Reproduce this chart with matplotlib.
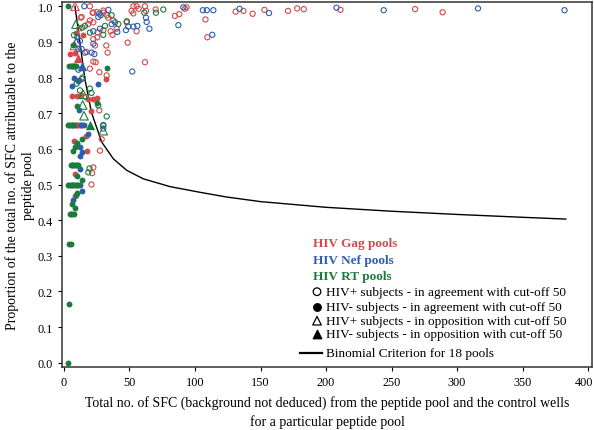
import matplotlib
matplotlib.use("Agg")
import matplotlib.pyplot as plt
from matplotlib.transforms import ScaledTranslation

# cores dos grupos de pools
gag_color = "#d24a4a"
nef_color = "#2b5fae"
rt_color = "#1c7a3c"

# Gag (vermelho)
gag_open_x = [19.8, 25, 21.9, 30, 32.6, 13.5, 19.8, 22.4, 18.5, 11.7, 25.7, 30, 37.7, 35.6, 40.2, 37, 25.4,
              22.4, 47.8, 52.9, 51.6, 55.4, 57, 61.8, 62.6, 55.4, 48.6, 70, 84.7, 88, 92.3, 93.6, 61.8,
              108, 109.4, 131, 137, 144, 153, 171, 178, 183, 211, 268, 289, 12.7, 22.4, 30, 33.8, 53,
              17.3, 23.7, 32.3, 33.3, 22.4, 24.2, 19.8, 27, 32.6, 16.8, 27, 28.8, 27.5, 22.4, 21.5, 21]
gag_open_y = [1.0, 0.984, 0.982, 0.982, 0.975, 0.97, 0.96, 0.955, 0.95, 0.938, 0.927, 0.933, 0.96, 0.93, 0.937,
              0.92, 0.913, 0.908, 0.955, 0.98, 0.987, 1.0, 0.993, 1.0, 0.987, 0.93, 0.898, 0.991, 0.973, 0.978,
              0.993, 0.997, 0.843, 0.963, 0.913, 0.985, 0.987, 0.979, 0.99, 0.987, 0.994, 0.992, 0.99, 0.992,
              0.983, 0.968, 0.982, 0.988, 0.968, 1.0, 0.872, 0.89, 0.89, 0.87, 0.845, 0.843, 0.825, 0.815,
              0.806, 0.745, 0.708, 0.627, 0.595, 0.548, 0.532, 0.5]
gag_opentri_x = [8.4, 8.0]
gag_opentri_y = [1.0, 0.89]
gag_fill_x = [4.6, 8.6, 9.2, 14.7, 11.5, 31.8, 5.9, 9.7, 18.6, 25, 22, 20.4, 9, 10, 11, 12, 16.8, 7.6,
              17.8, 8.4, 8.4, 13]
gag_fill_y = [0.866, 0.87, 0.926, 0.92, 0.793, 0.797, 0.749, 0.749, 0.739, 0.742, 0.74, 0.705, 0.667, 0.667,
              0.667, 0.667, 0.636, 0.623, 0.595, 0.53, 0.468, 0.75]
gag_filltri_x = [10.5]
gag_filltri_y = [0.855]

# Nef (azul)
nef_open_x = [15.5, 33.9, 26.2, 28, 22.4, 27.5, 36.4, 39, 40.7, 47.3, 62.6, 63.1, 49.1, 53, 56, 65.2, 91.1,
              87.3, 52.1, 106, 109, 114, 113.2, 134, 156.5, 208, 244, 316, 382, 10.2, 12.2, 11, 13.5, 16,
              21.1, 23.2, 22.4, 11, 13.5, 30, 30, 27]
nef_open_y = [1.0, 0.99, 0.97, 0.975, 0.93, 0.937, 0.95, 0.955, 0.928, 0.933, 0.968, 0.956, 0.943, 0.943,
              0.945, 0.937, 0.997, 0.947, 0.817, 0.989, 0.989, 0.989, 0.92, 0.993, 0.981, 0.996, 0.989,
              0.994, 0.989, 0.913, 0.903, 0.88, 0.88, 0.87, 0.87, 0.866, 0.895, 0.822, 0.796, 0.667,
              0.657, 0.98]
nef_opentri_x = [9.5]
nef_opentri_y = [0.9]
nef_fill_x = [7.6, 6.1, 10.7, 26.2, 11.5, 13, 14, 15, 18, 12.2, 13.5, 12.2, 12.2, 13.5, 7.1, 12.2]
nef_fill_y = [0.8, 0.777, 0.79, 0.783, 0.709, 0.667, 0.667, 0.667, 0.643, 0.605, 0.59, 0.581, 0.543, 0.483,
              0.457, 0.5]
nef_filltri_x = [13.5]
nef_filltri_y = [0.833]

# RT (verde)
rt_open_x = [36.4, 16, 14, 31.3, 41.5, 30, 19.8, 61.3, 70.2, 75.8, 7.6, 14.3, 9.7, 12.2, 19.8, 21, 26.2,
             32.6, 30, 18.6, 19.5, 48]
rt_open_y = [0.975, 0.945, 0.94, 0.945, 0.95, 0.92, 0.926, 0.982, 0.982, 0.991, 0.919, 0.8, 0.783, 0.764,
             0.769, 0.757, 0.722, 0.691, 0.665, 0.534, 0.545, 0.958]
rt_opentri_x = [9.2, 14.7, 14.3, 15.3, 30]
rt_opentri_y = [0.95, 0.753, 0.723, 0.693, 0.651]
rt_fill_x = [3, 6.6, 4, 5, 6, 7, 8, 9, 32.6, 10, 25, 3, 4, 5, 6, 7, 8, 13.7, 10, 8.4, 6.6, 5, 6, 7, 8, 9,
             10, 11, 10, 3, 4, 5, 6, 7, 8, 9, 10, 11, 14, 10, 9, 6.4, 8.2, 4.6, 5.5, 6.5, 8, 4.2, 5, 4, 3.3]
rt_fill_y = [1.0, 0.89, 0.833, 0.833, 0.833, 0.833, 0.833, 0.833, 0.828, 0.72, 0.73, 0.667, 0.667, 0.667,
             0.667, 0.667, 0.667, 0.628, 0.617, 0.605, 0.594, 0.556, 0.556, 0.556, 0.556, 0.556, 0.556,
             0.556, 0.525, 0.5, 0.5, 0.5, 0.5, 0.5, 0.5, 0.5, 0.5, 0.5, 0.513, 0.475, 0.47, 0.444, 0.433,
             0.417, 0.417, 0.417, 0.417, 0.333, 0.333, 0.165, 0.0]
rt_filltri_x = [20]
rt_filltri_y = [0.667]

# curva do criterio binomial
curve_x = [8.4, 12.2, 16, 21, 28.8, 37.7, 47.8, 60.5, 81, 104, 124, 150, 200, 250, 300, 350, 383]
curve_y = [1.0, 0.898, 0.795, 0.702, 0.619, 0.572, 0.54, 0.516, 0.494, 0.478, 0.465, 0.452, 0.436,
           0.425, 0.416, 0.408, 0.403]

legend_labels = ["HIV+ subjects - in agreement with cut-off 50",
                 "HIV- subjects - in agreement with cut-off 50",
                 "HIV+ subjects - in opposition with cut-off 50",
                 "HIV- subjects - in opposition with cut-off 50"]

plt.rcParams["font.family"] = ["Liberation Serif", "DejaVu Serif"]

fig = plt.figure(figsize=(5.94, 4.31), dpi=100)
ax = fig.add_axes([62 / 594, 1 - 368 / 431, 530 / 594, 365 / 431])


def pontos(x, y, color, marker, filled, s):
    if filled:
        ax.scatter(x, y, s=s, marker=marker, color=color, linewidths=0, zorder=3)
    else:
        ax.scatter(x, y, s=s, marker=marker, facecolors="none", edgecolors=color, linewidths=0.8, zorder=3)


for cor, grupos in [(gag_color, (gag_open_x, gag_open_y, gag_opentri_x, gag_opentri_y,
                                 gag_fill_x, gag_fill_y, gag_filltri_x, gag_filltri_y)),
                    (nef_color, (nef_open_x, nef_open_y, nef_opentri_x, nef_opentri_y,
                                 nef_fill_x, nef_fill_y, nef_filltri_x, nef_filltri_y)),
                    (rt_color, (rt_open_x, rt_open_y, rt_opentri_x, rt_opentri_y,
                                rt_fill_x, rt_fill_y, rt_filltri_x, rt_filltri_y))]:
    ox, oy, otx, oty, fx, fy, ftx, fty = grupos
    pontos(ox, oy, cor, "o", False, 14)
    pontos(otx, oty, cor, "^", False, 38)
    pontos(fx, fy, cor, "o", True, 18)
    pontos(ftx, fty, cor, "^", True, 45)

ax.plot(curve_x, curve_y, color="black", linewidth=1.0, zorder=2)

ax.set_xlim(-1.5, 403)
ax.set_ylim(-0.012, 1.012)
ax.set_xticks([0, 50, 100, 150, 200, 250, 300, 350, 400])
ax.set_yticks([0.0, 0.1, 0.2, 0.3, 0.4, 0.5, 0.6, 0.7, 0.8, 0.9, 1.0])
ax.set_yticklabels(["%.1f" % v for v in ax.get_yticks()])
ax.tick_params(labelsize=8.8, length=3, width=0.8, direction="out")
for sp in ax.spines.values():
    sp.set_linewidth(1.1)
    sp.set_color("#333333")

# o ultimo rotulo do eixo x encosta na borda: puxa um pouco para a esquerda
ultimo = ax.get_xticklabels()[-1]
ultimo.set_transform(ultimo.get_transform() + ScaledTranslation(-4 / 100, 0, fig.dpi_scale_trans))

ax.set_xlabel("Total no. of SFC (background not deduced) from the peptide pool and the control wells\n"
              "for a particular peptide pool", fontsize=10, linespacing=1.45, labelpad=5)
ax.set_ylabel("Proportion of the total no. of SFC attributable to the\npeptide pool",
              fontsize=10, linespacing=1.3, labelpad=2)

# legenda feita a mao
def fx(px):
    return (px - 62) / 530


def fy(py):
    return (368 - py) / 365


for txt, cor, py in [("HIV Gag pools", gag_color, 244), ("HIV Nef pools", nef_color, 260.7),
                     ("HIV RT pools", rt_color, 277.3)]:
    ax.text(fx(313), fy(py), txt, color=cor, fontsize=9.5, fontweight="bold",
            transform=ax.transAxes, va="center", ha="left")

marcas = [("o", False), ("o", True), ("^", False), ("^", True)]
for (mk, cheio), txt, py in zip(marcas, legend_labels, [292.7, 308.3, 321.7, 335]):
    ax.scatter([fx(317)], [fy(py)], s=30 if mk == "o" else 38, marker=mk,
               facecolors="black" if cheio else "none", edgecolors="black", linewidths=0.9,
               transform=ax.transAxes, clip_on=False)
    ax.text(fx(326), fy(py), txt, fontsize=9.5, transform=ax.transAxes, va="center", ha="left")

ax.plot([fx(300), fx(322)], [fy(354.3), fy(354.3)], color="black", linewidth=1.6, transform=ax.transAxes)
ax.text(fx(326), fy(354.3), "Binomial Criterion for 18 pools", fontsize=9.5,
        transform=ax.transAxes, va="center", ha="left")

fig.savefig("out.png", dpi=100)
